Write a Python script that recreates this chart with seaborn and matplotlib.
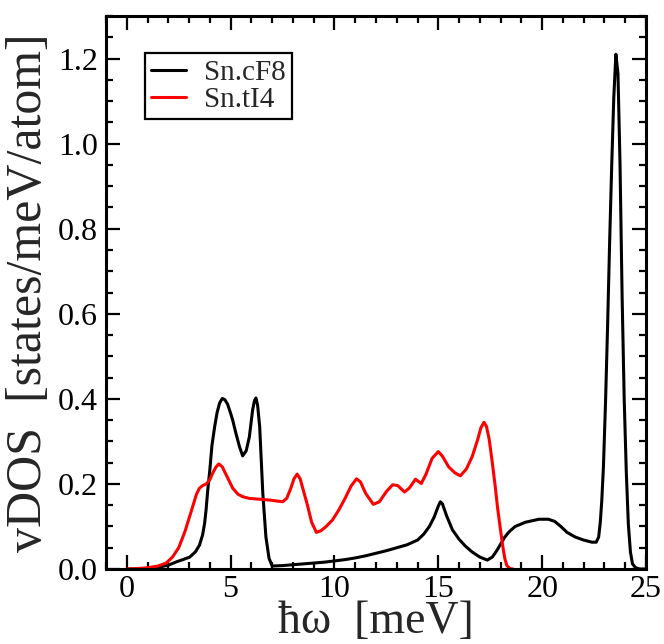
import numpy as np
import pandas as pd
import matplotlib
matplotlib.use("Agg")
import matplotlib.pyplot as plt
import seaborn as sns
from matplotlib.ticker import MultipleLocator

# ---- data ----
cf8_x = [0.0, 0.5, 1.0, 1.5, 2.0, 2.4, 2.7, 3.03, 3.3, 3.5, 3.65, 3.75, 3.82, 3.9, 4.0,
         4.1, 4.23, 4.35, 4.47, 4.6, 4.72, 4.85, 5.0, 5.1, 5.25, 5.43, 5.58, 5.75, 5.9,
         6.06, 6.15, 6.22, 6.3, 6.4, 6.55, 6.7, 6.85, 7.0, 7.5, 8.0, 8.5, 9.0, 9.5, 10.0,
         10.5, 11.0, 11.5, 12.0, 12.5, 13.0, 13.5, 14.0, 14.3, 14.57, 14.8, 15.0, 15.1,
         15.2, 15.4, 15.68, 16.0, 16.3, 16.63, 17.0, 17.36, 17.6, 17.8, 18.03, 18.2, 18.4,
         18.7, 19.2, 19.85, 20.3, 20.6, 20.9, 21.2, 21.6, 22.0, 22.4, 22.6, 22.72, 22.8,
         22.87, 22.95, 23.05, 23.15, 23.25, 23.35, 23.45, 23.55, 23.65, 23.75, 23.85,
         23.95, 24.05, 24.15, 24.25, 24.35, 24.5, 24.7, 25.0]
cf8_y = [0.000, 0.000, 0.001, 0.004, 0.009, 0.017, 0.022, 0.028, 0.040, 0.056, 0.080, 0.108,
         0.140, 0.186, 0.233, 0.290, 0.334, 0.368, 0.390, 0.401, 0.398, 0.388, 0.366, 0.350,
         0.320, 0.287, 0.266, 0.278, 0.310, 0.374, 0.396, 0.402, 0.385, 0.334, 0.178, 0.075,
         0.025, 0.007, 0.008, 0.010, 0.012, 0.014, 0.016, 0.019, 0.022, 0.026, 0.031, 0.037,
         0.043, 0.050, 0.057, 0.068, 0.082, 0.100, 0.122, 0.148, 0.158, 0.153, 0.125, 0.092,
         0.070, 0.054, 0.040, 0.028, 0.021, 0.028, 0.042, 0.061, 0.075, 0.087, 0.100, 0.110,
         0.117, 0.117, 0.112, 0.100, 0.086, 0.075, 0.068, 0.063, 0.063, 0.075, 0.110, 0.160,
         0.240, 0.390, 0.570, 0.770, 0.950, 1.110, 1.210, 1.165, 0.950, 0.640, 0.400, 0.230,
         0.105, 0.040, 0.012, 0.003, 0.000, 0.000]

ti4_x = [0.0, 0.5, 1.0, 1.5, 1.9, 2.2, 2.5, 2.8, 3.1, 3.35, 3.5, 3.65, 3.83, 4.0, 4.13,
         4.3, 4.43, 4.6, 4.8, 5.1, 5.35, 5.58, 5.9, 6.4, 6.9, 7.5, 7.7, 7.9, 8.05, 8.2,
         8.35, 8.5, 8.7, 8.9, 9.13, 9.35, 9.6, 9.9, 10.2, 10.5, 10.8, 11.06, 11.25, 11.5,
         11.87, 12.16, 12.5, 12.8, 13.05, 13.37, 13.6, 13.9, 14.18, 14.4, 14.7, 15.0, 15.2,
         15.5, 15.8, 16.06, 16.35, 16.63, 16.9, 17.05, 17.2, 17.32, 17.45, 17.6, 17.75,
         17.85, 18.0, 18.1, 18.2, 18.3, 18.45, 18.6]
ti4_y = [0.000, 0.001, 0.003, 0.007, 0.014, 0.028, 0.050, 0.088, 0.135, 0.175, 0.190, 0.196,
         0.200, 0.210, 0.225, 0.240, 0.247, 0.240, 0.220, 0.190, 0.176, 0.170, 0.166, 0.164,
         0.162, 0.158, 0.166, 0.190, 0.212, 0.223, 0.212, 0.185, 0.150, 0.110, 0.086, 0.090,
         0.100, 0.115, 0.138, 0.165, 0.195, 0.212, 0.205, 0.178, 0.152, 0.158, 0.182, 0.198,
         0.196, 0.181, 0.190, 0.211, 0.201, 0.222, 0.260, 0.276, 0.265, 0.240, 0.226, 0.219,
         0.235, 0.264, 0.305, 0.332, 0.345, 0.335, 0.305, 0.250, 0.190, 0.145, 0.090, 0.055,
         0.025, 0.008, 0.001, 0.000]

series_names = ["Sn.cF8", "Sn.tI4"]
series_colors = ["#000000", "#ff0000"]
x_ticks = [0, 5, 10, 15, 20, 25]
y_ticks = [0.0, 0.2, 0.4, 0.6, 0.8, 1.0, 1.2]

df = pd.concat([
    pd.DataFrame({"w": cf8_x, "dos": cf8_y, "phase": series_names[0]}),
    pd.DataFrame({"w": ti4_x, "dos": ti4_y, "phase": series_names[1]}),
], ignore_index=True)

sns.set_style("ticks")
plt.rcParams["font.family"] = ["Liberation Serif", "DejaVu Serif"]

fig = plt.figure(figsize=(6.64, 6.44), dpi=100)
ax = fig.add_axes([106 / 664, 1 - 569 / 644, 540 / 664, 553 / 644])

sns.lineplot(data=df, x="w", y="dos", hue="phase", hue_order=series_names,
             palette=dict(zip(series_names, series_colors)), linewidth=2.2,
             sort=False, estimator=None, ax=ax)

ax.set_xlim(-1, 25)
ax.set_ylim(0, 1.3)
ax.set_xticks(x_ticks)
ax.set_xticklabels([str(t) for t in x_ticks])
ax.set_yticks(y_ticks)
ax.set_yticklabels([f"{t:.1f}" for t in y_ticks])
ax.xaxis.set_minor_locator(MultipleLocator(1))
ax.yaxis.set_minor_locator(MultipleLocator(0.05))
ax.tick_params(which="both", direction="in", top=True, right=True, width=1.6,
               labelsize=23, color="black", labelcolor="black")
ax.tick_params(which="major", length=10)
ax.tick_params(which="minor", length=5)
ax.tick_params(axis="x", which="major", pad=4)
ax.tick_params(axis="y", which="major", pad=6)
for s in ax.spines.values():
    s.set_linewidth(2.2)
    s.set_color("black")

ax.set_xlabel("ħω  [meV]", fontsize=33, labelpad=-2)
ax.set_ylabel("vDOS  [states/meV/atom]", fontsize=36, labelpad=4)

leg = ax.legend(loc="upper left", bbox_to_anchor=(0.072, 0.933), fontsize=21,
                frameon=True, fancybox=False, shadow=False, handlelength=1.2,
                handletextpad=0.6, labelspacing=0.02, borderpad=0.22,
                borderaxespad=0.0, title=None)
leg.get_frame().set_edgecolor("black")
leg.get_frame().set_linewidth(1.6)
leg.get_frame().set_alpha(1)
for line in leg.get_lines():
    line.set_linewidth(2.2)

fig.savefig("out.png", dpi=100)
